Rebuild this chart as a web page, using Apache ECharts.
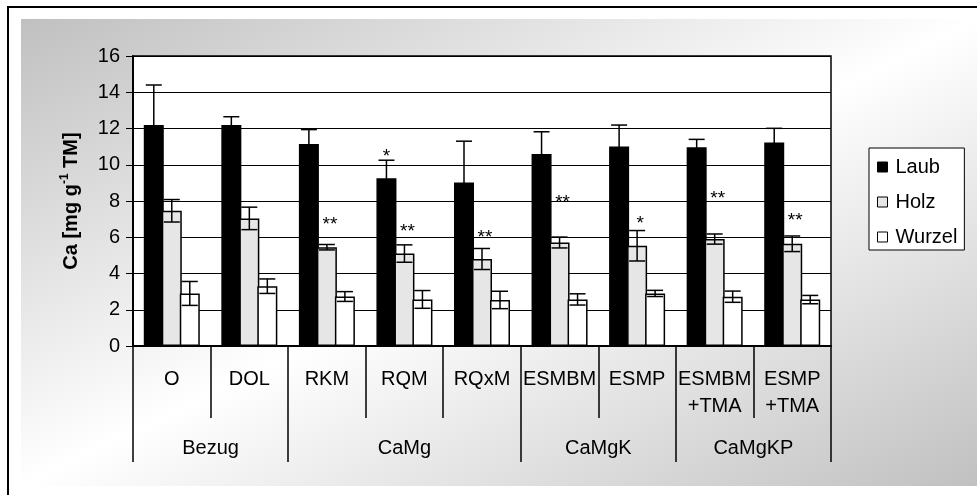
<!DOCTYPE html>
<html>
<head>
<meta charset="utf-8">
<script src="https://cdn.jsdelivr.net/npm/echarts@6/dist/echarts.min.js"></script>
<style>
  html, body { margin: 0; padding: 0; background: #fff; }
  #chart { width: 977px; height: 495px; }
</style>
</head>
<body>
<div id="chart"></div>
<script>
// Treatments (x categories) and their treatment groups
const categories = ['O', 'DOL', 'RKM', 'RQM', 'RQxM', 'ESMBM', 'ESMP', 'ESMBM\n+TMA', 'ESMP\n+TMA'];
const groupNames = ['Bezug', 'CaMg', 'CaMgK', 'CaMgKP'];
const groupBounds = [0, 2, 5, 7, 9];   // category index where each group starts / ends

const seriesNames = ['Laub', 'Holz', 'Wurzel'];

// Ca content [mg g-1 TM], mean and standard deviation
const laub      = [12.2, 12.2, 11.14, 9.25, 9.02, 10.59, 11.01, 10.96, 11.23];
const laubErr   = [2.2, 0.45, 0.8, 1.0, 2.28, 1.23, 1.18, 0.44, 0.78];
const holz      = [7.46, 7.04, 5.45, 5.1, 4.8, 5.71, 5.53, 5.9, 5.64];
const holzErr   = [0.62, 0.62, 0.15, 0.48, 0.58, 0.3, 0.84, 0.28, 0.43];
const wurzel    = [2.9, 3.3, 2.73, 2.57, 2.54, 2.57, 2.9, 2.72, 2.56];
const wurzelErr = [0.66, 0.4, 0.27, 0.49, 0.48, 0.31, 0.17, 0.31, 0.23];

// Significance marks and the value level they are written at
const laubSig   = ['', '', '', '*', '', '', '', '', ''];
const laubSigAt = [0, 0, 0, 10.71, 0, 0, 0, 0, 0];
const holzSig   = ['', '', '**', '**', '**', '**', '*', '**', '**'];
const holzSigAt = [0, 0, 6.98, 6.57, 6.26, 8.2, 7.04, 8.38, 7.18];

const yTicks = { min: 0, max: 16, interval: 2 };

const FONT = '"Liberation Sans", Arial, sans-serif';
const FS = 20;
const BAR_WIDTH = 20;
const BAR_GAP = -0.1;
const BAR_STEP = BAR_WIDTH * (1 + BAR_GAP);
const fills = ['#000000', '#e6e6e6', '#ffffff'];

const groupCenters = groupNames.map((_, k) => (groupBounds[k] + groupBounds[k + 1]) / 2);

function errData(mean, err) {
  return mean.map((m, i) => [i, m - err[i], m + err[i]]);
}

function errRender(slot) {
  return function (params, api) {
    const i = api.value(0);
    const lo = api.coord([i, api.value(1)]);
    const hi = api.coord([i, api.value(2)]);
    const x = lo[0] + slot * BAR_STEP;
    const half = 8;
    const st = { stroke: '#000', lineWidth: 1.5 };
    return {
      type: 'group',
      children: [
        { type: 'line', shape: { x1: x, y1: lo[1], x2: x, y2: hi[1] }, style: st },
        { type: 'line', shape: { x1: x - half, y1: hi[1], x2: x + half, y2: hi[1] }, style: st },
        { type: 'line', shape: { x1: x - half, y1: lo[1], x2: x + half, y2: lo[1] }, style: st }
      ]
    };
  };
}

function sigData(marks, levels) {
  const out = [];
  marks.forEach((m, i) => { if (m) out.push([i, levels[i], m]); });
  return out;
}

function sigRender(slot, dx) {
  return function (params, api) {
    const p = api.coord([api.value(0), api.value(1)]);
    return {
      type: 'text',
      style: {
        x: p[0] + slot * BAR_STEP + dx,
        y: p[1] + 5,
        text: api.value(2),
        fill: '#000',
        font: '19px ' + FONT,
        textAlign: 'center',
        textVerticalAlign: 'middle'
      }
    };
  };
}

const means = [laub, holz, wurzel];
const errs = [laubErr, holzErr, wurzelErr];

const barSeries = seriesNames.map((name, s) => ({
  name: name,
  type: 'bar',
  xAxisIndex: 0,
  yAxisIndex: 0,
  data: means[s],
  barWidth: BAR_WIDTH,
  barGap: (BAR_GAP * 100) + '%',
  itemStyle: { color: fills[s], borderColor: '#000', borderWidth: 1.5 },
  emphasis: { disabled: true },
  z: 2
}));

const errSeries = seriesNames.map((name, s) => ({
  type: 'custom',
  name: name + ' SD',
  xAxisIndex: 0,
  yAxisIndex: 0,
  renderItem: errRender(s - 1),
  data: errData(means[s], errs[s]),
  z: 5,
  silent: true
}));

const sigSeries = [
  { type: 'custom', name: 'sigLaub', renderItem: sigRender(-1, 0), data: sigData(laubSig, laubSigAt), z: 6, silent: true },
  { type: 'custom', name: 'sigHolz', renderItem: sigRender(0, 3), data: sigData(holzSig, holzSigAt), z: 6, silent: true }
];

const chart = echarts.init(document.getElementById('chart'), null, { renderer: 'canvas' });

// Backdrop: framed sheet with a diagonal corner-to-corner shading.
// The shaded panel is a unit square scaled to size so the gradient runs corner to corner.
const PANEL = { x: 21, y: 19, w: 960, h: 467 };

chart.setOption({
  animation: false,
  textStyle: { fontFamily: FONT, color: '#000' },
  graphic: [
    {
      type: 'rect', z: -100, silent: true,
      shape: { x: 8, y: 7, width: 1100, height: 600 },
      style: { fill: '#fff', stroke: '#000', lineWidth: 2 }
    },
    {
      type: 'rect', z: -99, silent: true,
      x: PANEL.x, y: PANEL.y, scaleX: PANEL.w / 100, scaleY: PANEL.h / 100,
      shape: { x: 0, y: 0, width: 100, height: 100 },
      style: {
        fill: new echarts.graphic.LinearGradient(0, 0, 1, 1, [
          { offset: 0, color: '#c0c0c0' },
          { offset: 0.5, color: '#ffffff' },
          { offset: 1, color: '#c0c0c0' }
        ])
      }
    }
  ],
  grid: {
    left: 133, top: 56, right: 146, bottom: 149,
    show: true,
    backgroundColor: '#fff',
    borderColor: '#000',
    borderWidth: 1.5,
    containLabel: false
  },
  legend: {
    data: seriesNames,
    orient: 'vertical',
    left: 869,
    top: 148,
    padding: [9, 7, 3, 8],
    itemWidth: 10,
    itemHeight: 10,
    itemGap: 15,
    backgroundColor: '#fff',
    borderColor: '#000',
    borderWidth: 1,
    icon: 'rect',
    selectedMode: false,
    itemStyle: { borderColor: '#000', borderWidth: 1 },
    textStyle: { fontSize: FS, fontFamily: FONT, color: '#000', padding: [0, 0, 0, 3] }
  },
  xAxis: [
    {
      type: 'category',
      data: categories,
      position: 'bottom',
      axisLine: { show: true, lineStyle: { color: '#000', width: 2 } },
      axisTick: { show: true, interval: 0, length: 72, lineStyle: { color: '#000', width: 1.5 } },
      axisLabel: { interval: 0, margin: 20, fontSize: FS, lineHeight: 27, color: '#000', fontFamily: FONT },
      splitLine: { show: false }
    },
    {
      type: 'value',
      min: groupBounds[0],
      max: groupBounds[groupBounds.length - 1],
      position: 'bottom',
      axisLine: { show: false },
      axisTick: { show: true, customValues: groupBounds, length: 116, lineStyle: { color: '#000', width: 1.5 } },
      axisLabel: {
        customValues: groupCenters,
        margin: 92,
        fontSize: FS,
        color: '#000',
        fontFamily: FONT,
        formatter: v => groupNames[groupCenters.indexOf(v)]
      },
      splitLine: { show: false }
    }
  ],
  yAxis: {
    type: 'value',
    min: yTicks.min,
    max: yTicks.max,
    interval: yTicks.interval,
    name: '{a|Ca [mg g}{s|-1}{a| TM]}',
    nameLocation: 'middle',
    nameRotate: 90,
    nameGap: 50,
    nameTextStyle: {
      rich: {
        a: { fontSize: 20, fontWeight: 'bold', fontFamily: FONT, color: '#000', lineHeight: 24 },
        s: { fontSize: 12, fontWeight: 'bold', fontFamily: FONT, color: '#000', lineHeight: 24, verticalAlign: 'top' }
      }
    },
    axisLine: { show: true, lineStyle: { color: '#000', width: 2 } },
    axisTick: { show: true, length: 7, lineStyle: { color: '#000', width: 1 } },
    axisLabel: { margin: 13, fontSize: FS, color: '#000', fontFamily: FONT },
    splitLine: { show: true, lineStyle: { color: '#000', width: 1 } }
  },
  series: barSeries.concat(errSeries, sigSeries)
});
</script>
</body>
</html>
